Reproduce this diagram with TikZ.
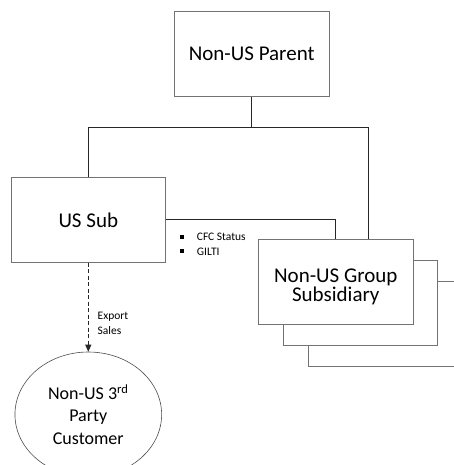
\documentclass[tikz,border=0pt]{standalone}
\usepackage{fontspec}
\setmainfont{Carlito}
\usetikzlibrary{shapes.geometric, positioning, arrows.meta}

\begin{document}
\begin{tikzpicture}[x=1pt, y=-1pt,
    entity/.style = {rectangle, draw=black!55, line width=0.8pt, fill=white,
      minimum width=154.5pt, minimum height=85pt, inner sep=0pt,
      align=center, font=\fontsize{21}{20}\selectfont},
    customer/.style = {ellipse, draw=black!70, line width=0.6pt,
      minimum width=146.7pt, minimum height=125pt, inner sep=0pt,
      align=center, font=\fontsize{18}{22.5}\selectfont},
    note/.style = {align=left, inner sep=0pt, font=\fontsize{11.5}{14.5}\selectfont},
    link/.style = {draw=black!85, line width=0.8pt}]
    \useasboundingbox (0,0) rectangle (454,465);

    \node[entity] (parent) at (251.7,54) {Non-US Parent};
    \node[entity] (ussub) at (88.3,219.8) {US Sub};

    \node[entity] (grp3) at (385.5,324.2) {};
    \node[entity] (grp2) at (360.5,303) {};
    \node[entity, label={[align=center, font=\fontsize{21}{19.5}\selectfont,
      yshift=-5pt]center:Non-US Group\\Subsidiary}] (grp) at (335.8,281.7) {};

    \node[customer] (cust) [below = 89pt of ussub.south, anchor=north] {Non-US 3\textsuperscript{rd}\\Party\\Customer};

    \coordinate (bus) at (251.7,127.5);
    \coordinate (busR) at (368,127.5);

    \draw[link] (parent.south) -- (bus);
    \draw[link] (ussub.north) |- (busR) -- (busR |- grp.north);
    \draw[link] (ussub.east) -| (grp.north);

    \node[note, anchor=west] (tax) at (179.7,244.3)
      {\raisebox{2pt}{\rule{4pt}{4pt}}\hspace{13pt}CFC Status\\
       \raisebox{2pt}{\rule{4pt}{4pt}}\hspace{13pt}GILTI};

    \draw[link, dash pattern=on 4pt off 2.5pt, -{Triangle[length=7pt, width=6pt]}]
      (ussub.south) -- (cust.north)
      node[note, pos=0.68, right=9pt] (sales) {Export\\Sales};
\end{tikzpicture}
\end{document}
